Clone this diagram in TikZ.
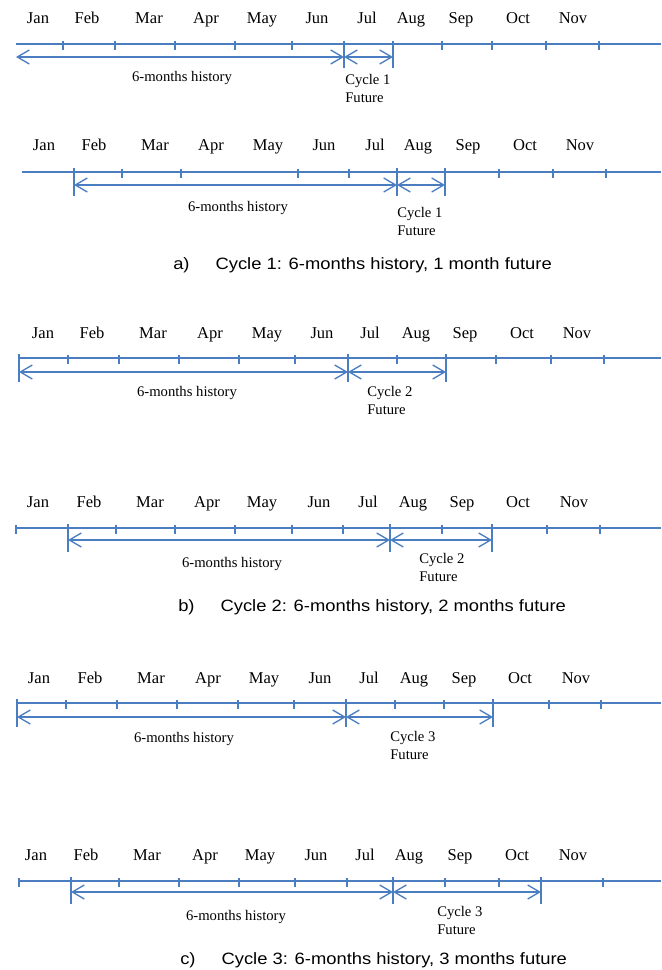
\documentclass[tikz,border=0pt]{standalone}
\usepackage{fontspec}
\setmainfont{Liberation Serif}
\newfontfamily\capfont[FakeStretch=1.12]{Liberation Sans}
\usetikzlibrary{arrows.meta}
\definecolor{tl}{RGB}{74,126,193}
\begin{document}
\begin{tikzpicture}[x=0.75pt,y=-0.75pt,
  axisline/.style={draw=tl,line width=1pt},
  tickmark/.style={draw=tl,line width=1pt},
  span/.style={draw=tl,line width=1pt,
    {Straight Barb[length=9pt,width=10.5pt]}-{Straight Barb[length=9pt,width=10.5pt]}},
  month/.style={font=\fontsize{12.4}{14}\selectfont,inner sep=0pt,text height=8.3pt,text depth=0pt},
  note/.style={font=\fontsize{11}{13.5}\selectfont,inner sep=0pt,align=left},
  hist/.style={font=\fontsize{11}{13.5}\selectfont,inner sep=0pt,text height=7.5pt,text depth=0pt},
  capt/.style={font=\capfont\fontsize{12.3}{14}\selectfont,inner sep=0pt,anchor=west}]
\useasboundingbox (0,0) rectangle (661,970);

% ---------- Panel 1 ----------
\foreach \m/\x in {Jan/38,Feb/87,Mar/149,Apr/206,May/262,Jun/317,Jul/367,Aug/411,Sep/461,Oct/518,Nov/573}
  \node[month] (p1\m) at (\x,18) {\m};
\coordinate (p1L) at (16,44); \coordinate (p1R) at (661,44);
\draw[axisline] (p1L) -- (p1R);
\foreach \x in {63,115,175,235,292,442,492,546,599} \draw[tickmark] (\x,41) -- (\x,50);
\foreach \x in {344,393} \draw[tickmark] (\x,41) -- (\x,68);
\coordinate (p1a) at (16,57); \coordinate (p1b) at (344,57); \coordinate (p1c) at (393,57);
\draw[span] (p1a) -- (p1b);
\draw[span] (p1b) -- (p1c);
\node[hist] (p1h) at (182,77) {6-months history};
\node[note,anchor=west] (p1f) at (345,88) {Cycle 1\\Future};

% ---------- Panel 2 ----------
\foreach \m/\x in {Jan/44,Feb/94,Mar/155,Apr/211,May/268,Jun/324,Jul/375,Aug/418,Sep/468,Oct/525,Nov/580}
  \node[month] (p2\m) at (\x,145) {\m};
\coordinate (p2L) at (22,172); \coordinate (p2R) at (661,172);
\draw[axisline] (p2L) -- (p2R);
\foreach \x in {122,181,298,349,499,553,606} \draw[tickmark] (\x,169) -- (\x,178);
\foreach \x in {74,397,445} \draw[tickmark] (\x,168) -- (\x,196);
\coordinate (p2a) at (74,185); \coordinate (p2b) at (397,185); \coordinate (p2c) at (445,185);
\draw[span] (p2a) -- (p2b);
\draw[span] (p2b) -- (p2c);
\node[hist] (p2h) at (238,206) {6-months history};
\node[note,anchor=west] (p2f) at (397,221) {Cycle 1\\Future};
\node[capt] (capa) at (173,265) {a)\hspace{19.5pt}Cycle 1: 6-months history, 1 month future};

% ---------- Panel 3 ----------
\foreach \m/\x in {Jan/43,Feb/92,Mar/153,Apr/210,May/267,Jun/322,Jul/370,Aug/416,Sep/465,Oct/522,Nov/577}
  \node[month] (p3\m) at (\x,333) {\m};
\coordinate (p3L) at (19,358); \coordinate (p3R) at (661,358);
\draw[axisline] (p3L) -- (p3R);
\foreach \x in {68,119,179,239,295,397,496,551,604} \draw[tickmark] (\x,355) -- (\x,364);
\foreach \x in {19,348,446} \draw[tickmark] (\x,354) -- (\x,382);
\coordinate (p3a) at (19,372); \coordinate (p3b) at (348,372); \coordinate (p3c) at (446,372);
\draw[span] (p3a) -- (p3b);
\draw[span] (p3b) -- (p3c);
\node[hist] (p3h) at (187,391) {6-months history};
\node[note,anchor=west] (p3f) at (367,400) {Cycle 2\\Future};

% ---------- Panel 4 ----------
\foreach \m/\x in {Jan/38,Feb/89,Mar/150,Apr/207,May/262,Jun/319,Jul/368,Aug/413,Sep/462,Oct/518,Nov/574}
  \node[month] (p4\m) at (\x,502) {\m};
\coordinate (p4L) at (16,528); \coordinate (p4R) at (661,528);
\draw[axisline] (p4L) -- (p4R);
\foreach \x in {16,116,175,235,292,343,442,547,600} \draw[tickmark] (\x,525) -- (\x,534);
\foreach \x in {68,390,492} \draw[tickmark] (\x,524) -- (\x,552);
\coordinate (p4a) at (68,540); \coordinate (p4b) at (390,540); \coordinate (p4c) at (492,540);
\draw[span] (p4a) -- (p4b);
\draw[span] (p4b) -- (p4c);
\node[hist] (p4h) at (232,562) {6-months history};
\node[note,anchor=west] (p4f) at (419,567) {Cycle 2\\Future};
\node[capt] (capb) at (178,607) {b)\hspace{19.5pt}Cycle 2: 6-months history, 2 months future};

% ---------- Panel 5 ----------
\foreach \m/\x in {Jan/39,Feb/90,Mar/151,Apr/208,May/264,Jun/320,Jul/369,Aug/414,Sep/464,Oct/520,Nov/576}
  \node[month] (p5\m) at (\x,678) {\m};
\coordinate (p5L) at (17,703); \coordinate (p5R) at (661,703);
\draw[axisline] (p5L) -- (p5R);
\foreach \x in {66,117,177,238,294,395,444,549,601} \draw[tickmark] (\x,700) -- (\x,709);
\foreach \x in {17,346,493} \draw[tickmark] (\x,699) -- (\x,727);
\coordinate (p5a) at (17,717); \coordinate (p5b) at (346,717); \coordinate (p5c) at (493,717);
\draw[span] (p5a) -- (p5b);
\draw[span] (p5b) -- (p5c);
\node[hist] (p5h) at (184,737) {6-months history};
\node[note,anchor=west] (p5f) at (390,745) {Cycle 3\\Future};

% ---------- Panel 6 ----------
\foreach \m/\x in {Jan/36,Feb/86,Mar/147,Apr/205,May/260,Jun/316,Jul/365,Aug/409,Sep/460,Oct/517,Nov/573}
  \node[month] (p6\m) at (\x,855) {\m};
\coordinate (p6L) at (19,881); \coordinate (p6R) at (661,881);
\draw[axisline] (p6L) -- (p6R);
\foreach \x in {19,119,179,239,295,347,445,499,603} \draw[tickmark] (\x,878) -- (\x,887);
\foreach \x in {71,393,541} \draw[tickmark] (\x,877) -- (\x,904);
\coordinate (p6a) at (71,892); \coordinate (p6b) at (393,892); \coordinate (p6c) at (541,892);
\draw[span] (p6a) -- (p6b);
\draw[span] (p6b) -- (p6c);
\node[hist] (p6h) at (236,915) {6-months history};
\node[note,anchor=west] (p6f) at (437,920) {Cycle 3\\Future};
\node[capt] (capc) at (180,960) {c)\hspace{19.5pt}Cycle 3: 6-months history, 3 months future};
\end{tikzpicture}
\end{document}
